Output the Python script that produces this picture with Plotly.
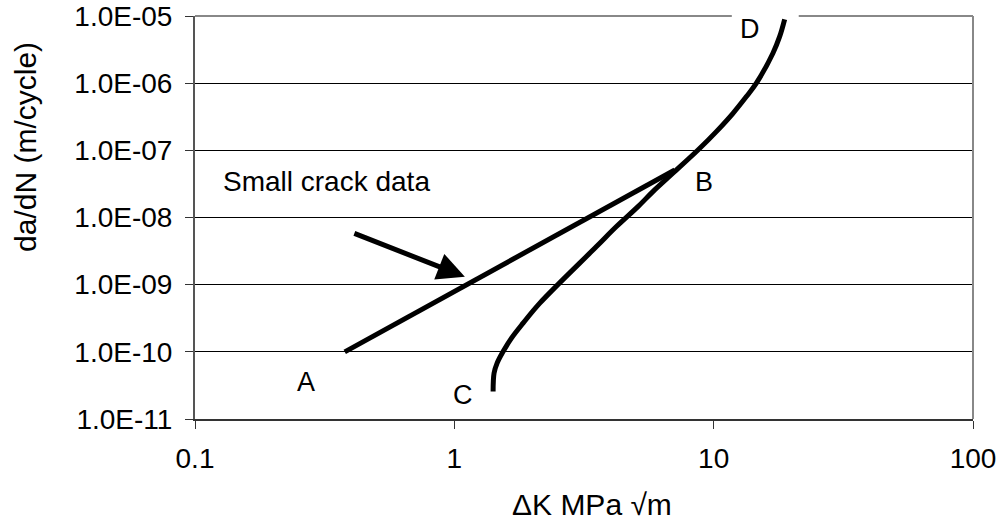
import numpy as np
import plotly.graph_objects as go

# Small-crack growth line A-B
small_dk = [0.378, 7.08]
small_rate = [1.0e-10, 5.1e-8]

# Long-crack growth curve C-D
long_dk = [1.411, 1.423, 1.462, 1.542, 1.661, 1.841, 2.136, 3.532, 4.217, 5.106,
           5.83, 6.96, 8.70, 10.24, 11.87, 13.37, 14.61, 16.92, 17.96, 18.78]
long_rate = [2.56e-11, 4.82e-11, 6.79e-11, 1.01e-10, 1.60e-10, 2.67e-10, 5.31e-10,
             3.69e-9, 7.33e-9, 1.45e-8, 2.43e-8, 4.56e-8, 1.01e-7, 1.90e-7, 3.56e-7,
             6.32e-7, 1.0e-6, 2.79e-6, 4.92e-6, 8.93e-6]

# Axis ticks
x_ticks = [0.1, 1, 10, 100]
x_ticktext = ["0.1", "1", "10", "100"]
y_ticks = [1e-11, 1e-10, 1e-9, 1e-8, 1e-7, 1e-6, 1e-5]
y_ticktext = ["1.0E-11", "1.0E-10", "1.0E-09", "1.0E-08", "1.0E-07", "1.0E-06", "1.0E-05"]

# Point labels (name, dK, da/dN)
point_labels = [
    ("A", 0.267, 3.58e-11),
    ("B", 9.15, 3.39e-8),
    ("C", 1.083, 2.25e-11),
    ("D", 13.76, 6.41e-6),
]
note_text = "Small crack data"
note_pos = (0.32, 3.39e-8)
arrow_tip = (1.098, 1.31e-9)

FONT = "Liberation Sans, Arial, sans-serif"

fig = go.Figure()
fig.add_trace(go.Scatter(x=small_dk, y=small_rate, mode="lines",
                         line=dict(color="black", width=5), hoverinfo="skip"))
fig.add_trace(go.Scatter(x=long_dk, y=long_rate, mode="lines",
                         line=dict(color="black", width=5, shape="spline", smoothing=1.0),
                         hoverinfo="skip"))

annotations = []
for name, xv, yv in point_labels:
    annotations.append(dict(x=np.log10(xv), y=np.log10(yv), xref="x", yref="y",
                            text=name, showarrow=False,
                            font=dict(family=FONT, size=27, color="black")))
annotations.append(dict(x=np.log10(note_pos[0]), y=np.log10(note_pos[1]), xref="x", yref="y",
                        text=note_text, showarrow=False,
                        font=dict(family=FONT, size=28, color="black")))
annotations.append(dict(x=np.log10(arrow_tip[0]), y=np.log10(arrow_tip[1]), xref="x", yref="y",
                        ax=-112, ay=-44, axref="pixel", ayref="pixel",
                        text="", showarrow=True, arrowhead=2, arrowsize=1.1,
                        arrowwidth=5, arrowcolor="black"))
# Axis titles
annotations.append(dict(x=-0.2172, y=0.675, xref="paper", yref="paper",
                        xanchor="center", yanchor="middle",
                        text="da/dN (m/cycle)", textangle=-90, showarrow=False,
                        font=dict(family=FONT, size=30, color="black")))
annotations.append(dict(x=0.510, y=-0.211, xref="paper", yref="paper",
                        xanchor="center", yanchor="middle",
                        text="\u0394K MPa \u221am", showarrow=False,
                        font=dict(family=FONT, size=30, color="black")))

shapes = [
    # white backing behind the text boxes (hides gridlines, stays under the curves)
    dict(type="rect", xref="paper", yref="paper", x0=0.0257, x1=0.3213, y0=0.474, y1=0.643,
         fillcolor="white", line=dict(width=0), layer="between"),
    dict(type="rect", xref="paper", yref="paper", x0=0.690, x1=0.776, y0=0.9206, y1=1.03,
         fillcolor="white", line=dict(width=0), layer="between"),
    # top and right frame
    dict(type="line", xref="paper", yref="paper", x0=0, x1=0.690, y0=1, y1=1,
         line=dict(color="#888888", width=2), layer="above"),
    dict(type="line", xref="paper", yref="paper", x0=0.776, x1=1, y0=1, y1=1,
         line=dict(color="#888888", width=2), layer="above"),
    dict(type="line", xref="paper", yref="paper", x0=1, x1=1, y0=0, y1=1,
         line=dict(color="#888888", width=2), layer="above"),
]

fig.update_layout(
    width=1005, height=525,
    margin=dict(l=195, r=32, t=16, b=106, autoexpand=False),
    paper_bgcolor="white", plot_bgcolor="white",
    showlegend=False,
    annotations=annotations,
    shapes=shapes,
    font=dict(family=FONT, color="black"),
)
fig.update_xaxes(type="log", range=[-1, 2], tickvals=x_ticks, ticktext=x_ticktext,
                 automargin=False,
                 showgrid=False, zeroline=False, showline=True, linecolor="#333333",
                 linewidth=2, ticks="outside", ticklen=8, tickcolor="#333333",
                 ticklabelstandoff=5,
                 tickfont=dict(family=FONT, size=28, color="black"))
fig.update_yaxes(type="log", range=[-11, -5], tickvals=y_ticks, ticktext=y_ticktext,
                 automargin=False,
                 showgrid=True, gridcolor="black", gridwidth=1, zeroline=False,
                 showline=True, linecolor="#555555", linewidth=2, ticks="outside",
                 ticklen=8, tickcolor="#333333", ticklabelstandoff=7,
                 tickfont=dict(family=FONT, size=28, color="black"))

fig.write_html("out.html")
